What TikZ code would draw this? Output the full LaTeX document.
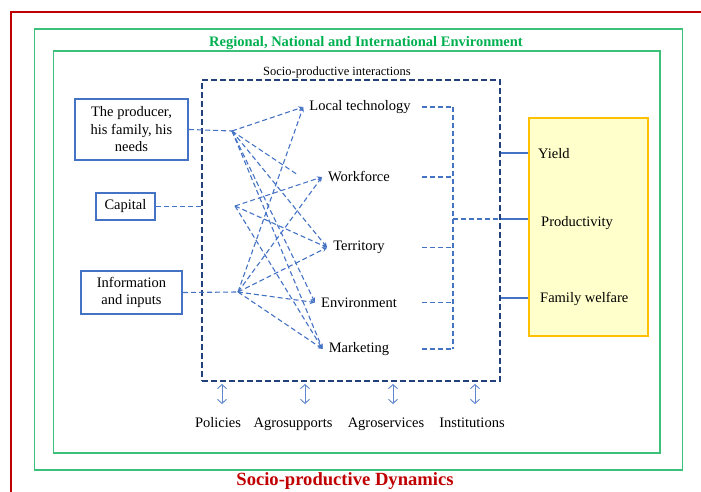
\documentclass[tikz,border=0pt]{standalone}
\usepackage{fontspec}
\setmainfont{Liberation Serif}
\usepackage{xcolor}
\usetikzlibrary{positioning,arrows.meta}

\definecolor{framered}{HTML}{C00000}
\definecolor{envgreen}{HTML}{3CC07A}
\definecolor{titlegreen}{HTML}{00B050}
\definecolor{navy}{HTML}{22407A}
\definecolor{linkblue}{HTML}{4472C4}
\definecolor{outfill}{HTML}{FFFFCC}
\definecolor{outline}{HTML}{FFC000}

\begin{document}
\begin{tikzpicture}[x=1pt,y=-1pt,
		every node/.style={font=\fontsize{14.5}{17.5}\selectfont},
		actor/.style={draw=linkblue, line width=2.4pt, align=center, inner sep=2pt},
		factor/.style={inner sep=6pt},
		outlbl/.style={anchor=west, inner sep=0pt},
		around/.style={anchor=base},
		link/.style={draw=linkblue, line width=1.1pt, dash pattern=on 5pt off 3pt},
		linkto/.style={link, -{Stealth[length=5pt,width=4.5pt]}},
		feed/.style={draw=linkblue, line width=1.4pt},
		updown/.style={draw=linkblue!85, line width=0.9pt, shorten <=2pt,
			{Straight Barb[length=4pt,width=9pt]}-{Straight Barb[length=4pt,width=9pt]}}]
	\useasboundingbox (0,0) rectangle (701,492);
	
	% frames
	\draw[framered, line width=2pt] (705,12) -- (11,12) -- (11,496);
	\draw[envgreen, line width=1.3pt] (34.5,29) rectangle (682.5,470);
	\draw[envgreen, line width=1.3pt] (53.5,51) rectangle (660,453);
	\node[text=titlegreen, font=\bfseries\fontsize{14.5}{17}\selectfont] (regional) at (366,43) {Regional, National and International Environment};
	\node[text=framered, font=\bfseries\fontsize{18.6}{22}\selectfont] (dynamics) at (345,481) {Socio-productive Dynamics};
	
	\node[draw=navy, line width=2pt, dash pattern=on 6pt off 3pt, minimum width=298pt, minimum height=301pt, inner sep=0pt] (inter) at (351,230.5) {};
	\node[font=\fontsize{12.5}{15}\selectfont] (interlbl) at (337,72) {Socio-productive interactions};
	
	% actors on the left
	\node[actor, minimum width=113pt, minimum height=61pt] (prod) at (131.5,129.5) {The producer,\\ his family, his\\ needs};
	\node[actor, minimum width=59pt, minimum height=27pt] (cap) at (125.5,206.5) {Capital};
	\node[actor, minimum width=101pt, minimum height=43pt] (info) at (131.5,292.5) {Information\\ and inputs};
	
	% factors
	\node[factor] (tech) at (360,107) {Local technology};
	\node[factor] (work) at (359,177) {Workforce};
	\node[factor] (terr) at (359,247.5) {Territory};
	\node[factor] (env) at (359,302.5) {Environment};
	\node[factor] (mark) at (359,349) {Marketing};
	
	\coordinate (p1) at (232,131);
	\coordinate (p2) at (235,206);
	\coordinate (p3) at (238,292);
	\coordinate (workend) at (298,175);
	
	\draw[link] (prod.east) -- (p1);
	\draw[link] (cap.east) -- (cap.east -| inter.west);
	\draw[link] (info.east) -- (p3);
	
	\foreach \t in {tech,terr,env,mark} \draw[linkto] (p1) -- (\t.west);
	\draw[link] (p1) -- (workend);
	\foreach \t in {work,terr,mark} \draw[linkto] (p2) -- (\t.west);
	\foreach \t in {tech,work,terr,env,mark} \draw[linkto] (p3) -- (\t.west);
	
	% bracket to the results
	\coordinate (busin) at (422,219);
	\coordinate (bus) at (453,219);
	\foreach \t in {tech,work,terr,env,mark} \draw[link] (\t -| busin) -- (\t -| bus);
	\draw[link] (tech -| bus) -- (mark -| bus);
	\draw[link] (bus) -- (bus -| inter.east);
	
	% results
	\node[draw=outline, fill=outfill, line width=2pt, minimum width=119pt, minimum height=218pt] (out) at (588.5,227) {};
	\node[outlbl] (yield) at (538,154) {Yield};
	\node[outlbl] (prodv) at (541,223) {Productivity};
	\node[outlbl] (welf) at (540,299) {Family welfare};
	\draw[feed] (inter.east |- 0,153) -- (out.west |- 0,153);
	\draw[feed] (bus -| inter.east) -- (bus -| out.west);
	\draw[feed] (inter.east |- 0,298) -- (out.west |- 0,298);
	
	% surroundings below
	\node[around] (pol) at (218,427) {Policies};
	\node[around] (agsup) at (293,427) {Agrosupports};
	\node[around] (agserv) at (386,427) {Agroservices};
	\node[around] (inst) at (472,427) {Institutions};
	\foreach \x/\n in {222/a1,305/a2,393/a3,475/a4} {
		\coordinate (\n) at (\x,404);
		\draw[updown] (\n |- inter.south) -- (\n);
	}
\end{tikzpicture}
\end{document}
